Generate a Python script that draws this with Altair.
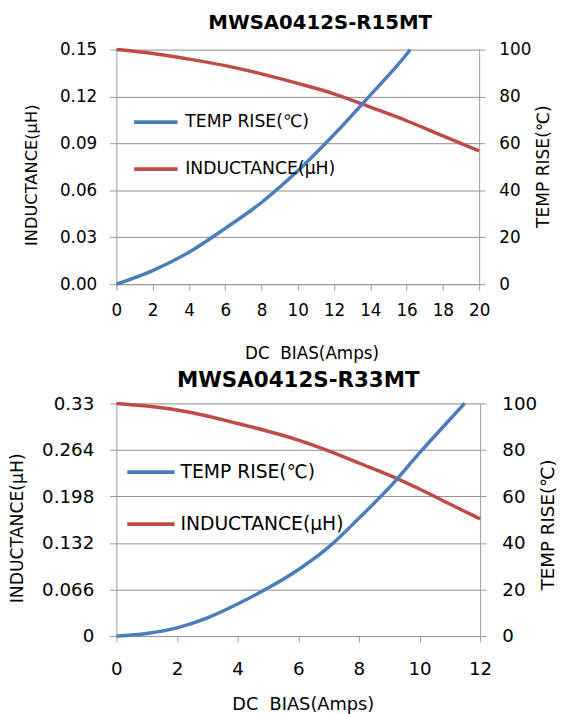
import altair as alt
import pandas as pd

SERIES = ["TEMP RISE(℃)", "INDUCTANCE(µH)"]
COLORS = ["#4A7EBB", "#BE4B48"]
FONT = "DejaVu Sans"

# ---------- panel 1 : MWSA0412S-R15MT ----------
p1_title = "MWSA0412S-R15MT"
p1_ind_x = [0, 2, 4, 6, 8, 10, 12, 14, 16, 18, 20]
p1_ind_y = [0.150, 0.1475, 0.1439, 0.1397, 0.1345, 0.1284, 0.1217, 0.1132, 0.1045, 0.0948, 0.0852]
p1_temp_x = [0, 2, 4, 6, 8, 10, 12, 14, 16, 16.2]
p1_temp_y = [0, 5.8, 13.6, 23.8, 34.8, 48.3, 63.8, 80.6, 98, 100]
p1_x_ticks = [0, 2, 4, 6, 8, 10, 12, 14, 16, 18, 20]
p1_left_ticks = [0, 0.03, 0.06, 0.09, 0.12, 0.15]
p1_right_ticks = [0, 20, 40, 60, 80, 100]

# ---------- panel 2 : MWSA0412S-R33MT ----------
p2_title = "MWSA0412S-R33MT"
p2_ind_x = [0, 1, 2, 3, 4, 5, 6, 7, 8, 9, 10, 11, 12]
p2_ind_y = [0.33, 0.3263, 0.3207, 0.3122, 0.3015, 0.2905, 0.278, 0.2627, 0.2455, 0.2282, 0.2085, 0.1872, 0.1662]
p2_temp_x = [0, 1, 2, 3, 4, 5, 6, 7, 8, 9, 10, 11, 11.49]
p2_temp_y = [0, 1.1, 3.5, 7.8, 13.8, 20.6, 28.5, 38.2, 50.6, 63.8, 78.7, 93.1, 100]
p2_x_ticks = [0, 2, 4, 6, 8, 10, 12]
p2_left_ticks = [0, 0.066, 0.132, 0.198, 0.264, 0.33]
p2_right_ticks = [0, 20, 40, 60, 80, 100]

X_TITLE = "DC\u00a0\u00a0BIAS(Amps)"
LEFT_TITLE = "INDUCTANCE(µH)"
RIGHT_TITLE = "TEMP RISE(℃)"


def panel(title, ind_x, ind_y, temp_x, temp_y, x_ticks, left_ticks, right_ticks,
          left_expr, w, h, s):
    ind_df = pd.DataFrame({"x": ind_x, "v": ind_y, "series": SERIES[1]})
    temp_df = pd.DataFrame({"x": temp_x, "v": temp_y, "series": SERIES[0]})

    xenc = alt.X("x:Q",
                 scale=alt.Scale(domain=[0, x_ticks[-1]], nice=False, zero=False),
                 axis=alt.Axis(values=x_ticks, tickSize=6, labelPadding=s["xlp"],
                               labelFontSize=s["lfs"], labelFlush=False, labelOverlap=False,
                               grid=False, title=X_TITLE, titleFontSize=s["xtfs"],
                               titleX=s["xtx"], titleY=s["xty"], titleBaseline="alphabetic",
                               titleAlign="center"))
    legend = alt.Legend(orient="none", legendX=s["lgx"], legendY=s["lgy"], title=None,
                        symbolType="stroke", symbolSize=s["sym"] ** 2,
                        symbolStrokeWidth=3.8, labelFontSize=s["lgfs"], labelFont=FONT,
                        labelColor="#000000", labelOffset=s["lgo"], rowPadding=s["lgrp"],
                        padding=0, labelLimit=400)
    color = alt.Color("series:N", scale=alt.Scale(domain=SERIES, range=COLORS), legend=legend)

    ind = alt.Chart(ind_df).mark_line(strokeWidth=3.5, interpolate="monotone").encode(
        x=xenc,
        y=alt.Y("v:Q", scale=alt.Scale(domain=[0, left_ticks[-1]], nice=False),
                axis=alt.Axis(values=left_ticks, labelExpr=left_expr, tickSize=7,
                              labelPadding=s["llp"], labelFontSize=s["lfs"],
                              labelOverlap=False, grid=True, title=LEFT_TITLE,
                              titleFontSize=s["ltfs"], titleX=s["ltx"], titleY=s["lty"],
                              titleAngle=270, titleBaseline="middle", titleAlign="center")),
        color=color,
    )
    temp = alt.Chart(temp_df).mark_line(strokeWidth=3.5, interpolate="monotone").encode(
        x=xenc,
        y=alt.Y("v:Q", scale=alt.Scale(domain=[0, 100], nice=False),
                axis=alt.Axis(orient="right", values=right_ticks, tickSize=6,
                              labelPadding=s["rlp"], labelFontSize=s["lfs"],
                              labelOverlap=False, grid=False, title=RIGHT_TITLE,
                              titleFontSize=s["rtfs"], titleX=s["rtx"], titleY=s["rty"],
                              titleAngle=270, titleBaseline="middle", titleAlign="center")),
        color=color,
    )
    return alt.layer(ind, temp).resolve_scale(y="independent").properties(
        width=w, height=h,
        title=alt.TitleParams(title, font=FONT, fontSize=s["tfs"], fontWeight="bold",
                              color="#000000", anchor="middle", dx=s["tdx"],
                              offset=s["toff"], baseline="alphabetic", frame="group"),
    )


s1 = dict(xlp=13, lfs=17, xtfs=17, xtx=198, xty=75.5, lgx=16, lgy=49.6, sym=44,
          lgfs=17.5, lgo=5.8, lgrp=14.8, llp=13, ltfs=16.5, ltx=-85.6, lty=127,
          rlp=14, rtfs=17.3, rtx=65, rty=118.3, tfs=20, tdx=22.7, toff=-8.6)
s2 = dict(xlp=18, xtfs=18, lfs=18.5, xtx=189, xty=74.5, lgx=9, lgy=43.7, sym=48,
          lgfs=19, lgo=4, lgrp=16.8, llp=16, ltfs=17.5, ltx=-100.7, lty=126.2,
          rlp=16, rtfs=18.5, rtx=68, rty=122.7, tfs=21.7, tdx=0, toff=-13.7)

top = panel(p1_title, p1_ind_x, p1_ind_y, p1_temp_x, p1_temp_y, p1_x_ticks,
            p1_left_ticks, p1_right_ticks, "format(datum.value, '.2f')", 368, 238, s1)
bottom = panel(p2_title, p2_ind_x, p2_ind_y, p2_temp_x, p2_temp_y, p2_x_ticks,
               p2_left_ticks, p2_right_ticks, "format(datum.value, '.3~g')", 369, 236, s2)

chart = alt.vconcat(top, bottom, spacing=8).resolve_scale(
    color="independent"
).resolve_legend(color="independent").properties(
    padding={"top": 0, "left": 0, "right": 0, "bottom": 0},
    background="#ffffff",
).configure_view(stroke=None).configure_axis(
    labelFont=FONT, titleFont=FONT, labelColor="#000000", titleColor="#000000",
    titleFontWeight="normal", domainColor="#9a9a9a", tickColor="#9a9a9a",
    gridColor="#8c8c8c", domainWidth=1, tickWidth=1, gridWidth=1,
)

chart.save("out.html", embed_options={"renderer": "svg", "actions": False})
